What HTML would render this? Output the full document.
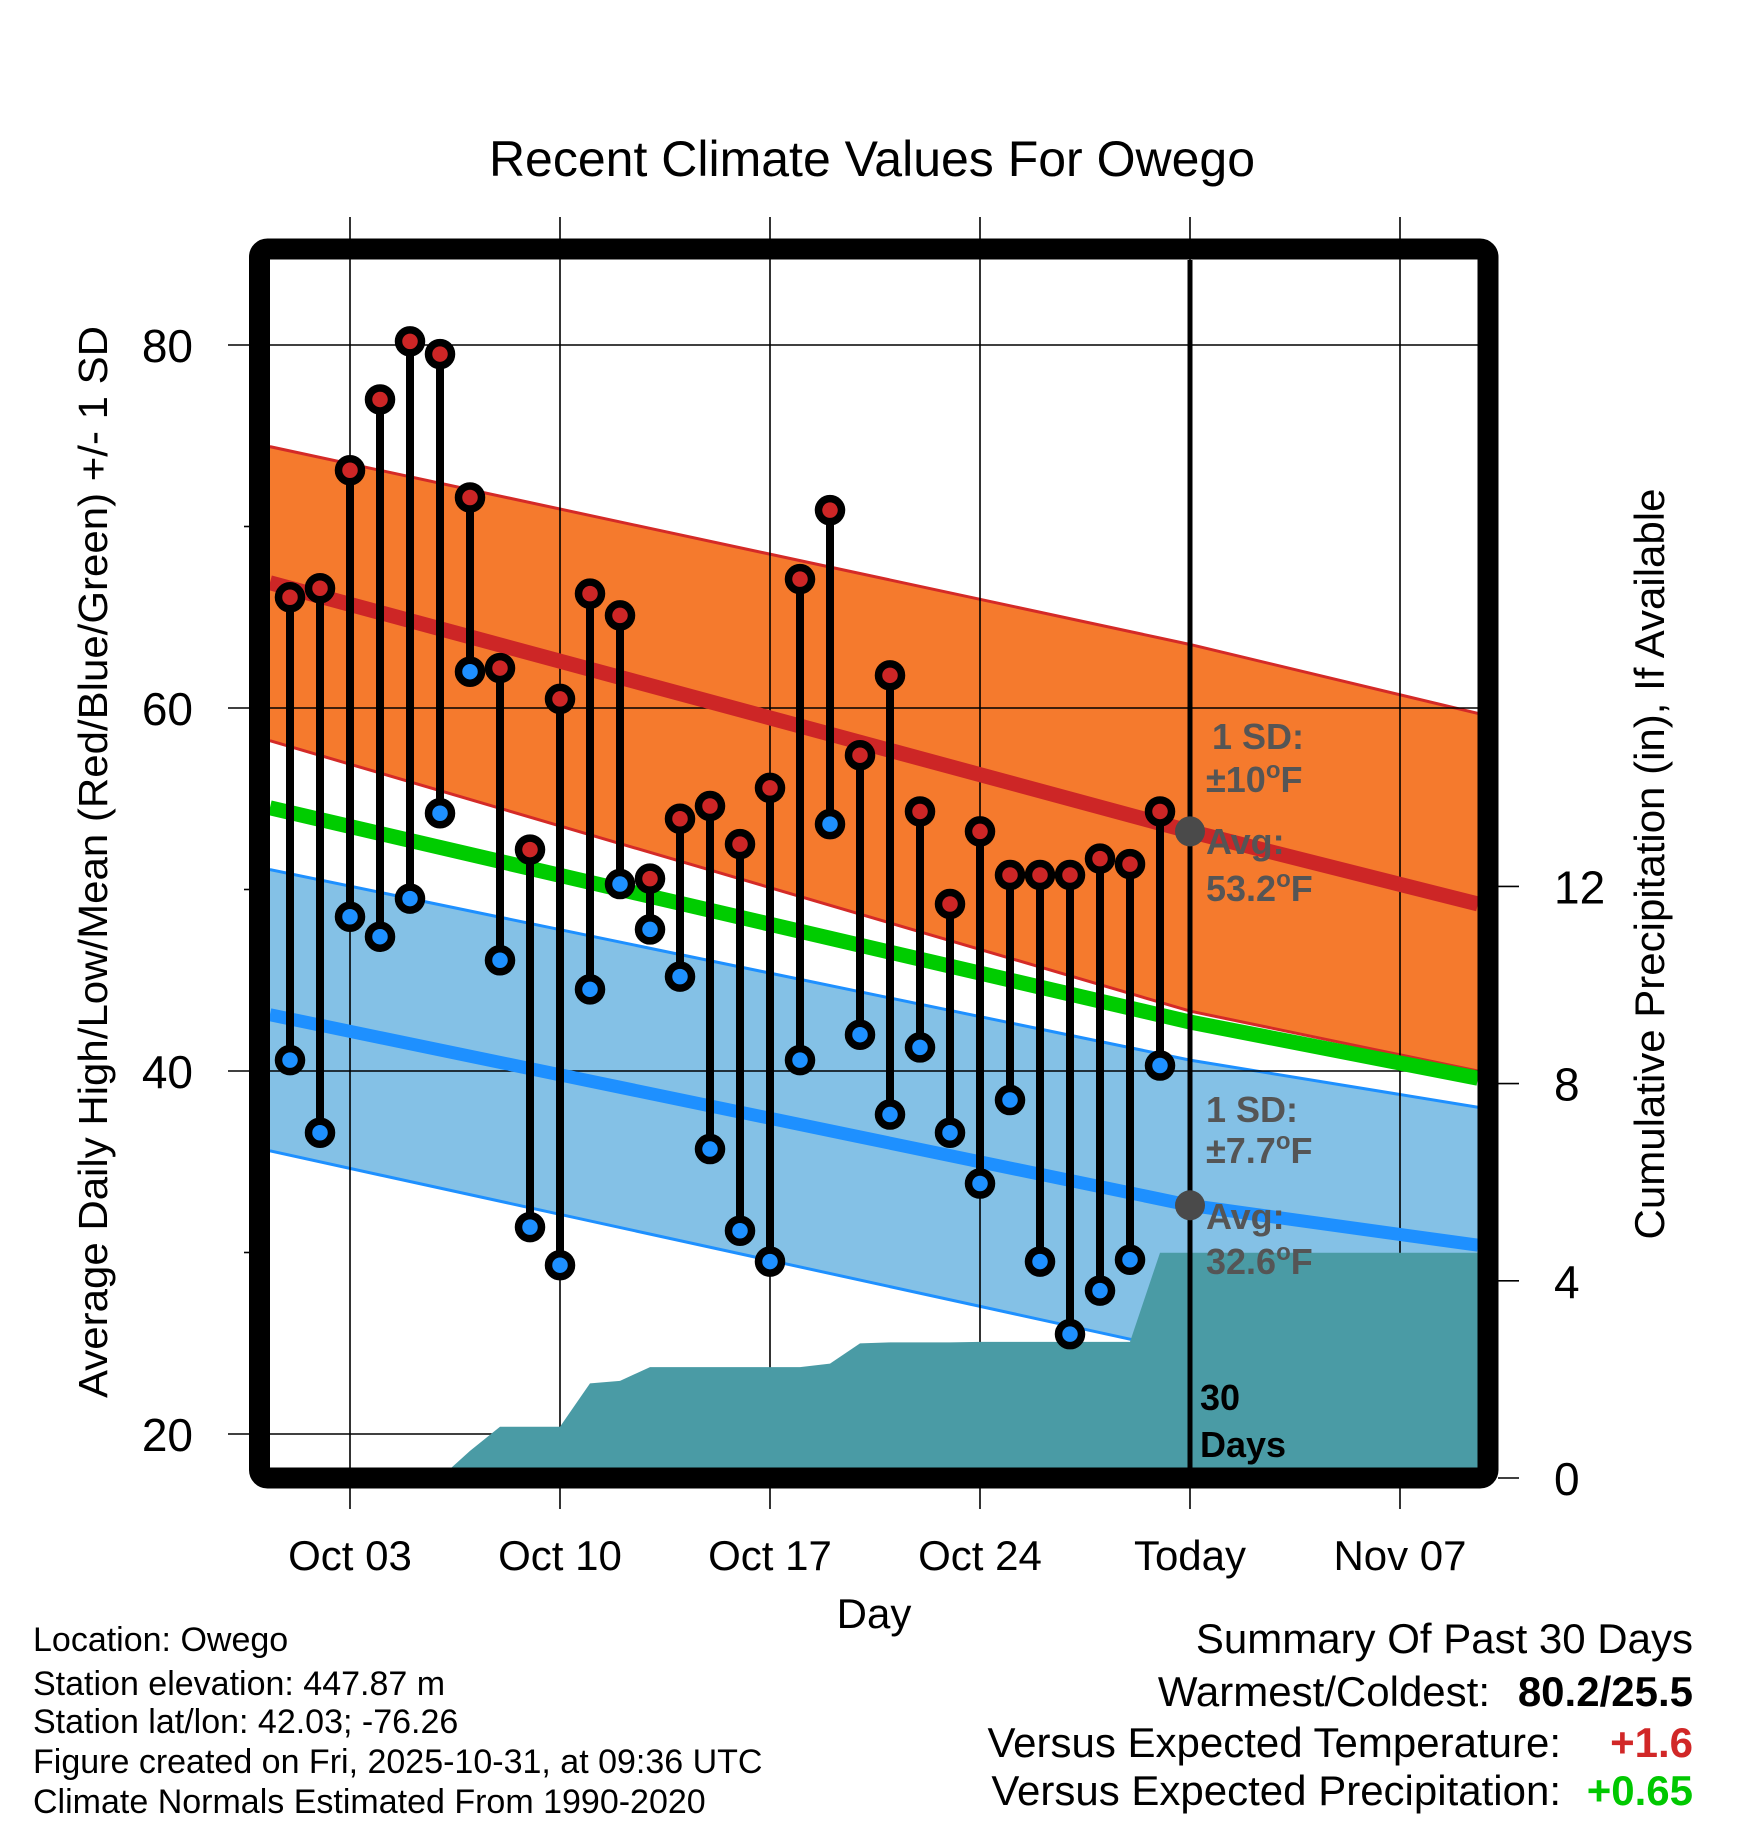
<!DOCTYPE html>
<html><head><meta charset="utf-8"><title>Recent Climate Values For Owego</title>
<style>
html,body{margin:0;padding:0;background:#fff;}
svg{display:block;font-family:"Liberation Sans",Arial,sans-serif;}
</style></head>
<body>
<svg id="chart" width="1748" height="1828" viewBox="0 0 1748 1828" xmlns="http://www.w3.org/2000/svg">
<text x="872" y="176" font-size="50" text-anchor="middle">Recent Climate Values For Owego</text>
<defs><clipPath id="plotClip"><rect x="270" y="260" width="1208" height="1208"/></clipPath></defs>
<g id="bands" clip-path="url(#plotClip)"></g>
<g id="grid"></g>
<g id="lines" clip-path="url(#plotClip)"></g>
<g id="precip" clip-path="url(#plotClip)"></g>
<g id="bars"></g>
<g id="overlay"></g>
<rect x="259.5" y="249" width="1228.5" height="1229" rx="8" fill="none" stroke="#000" stroke-width="21"/>
<g id="axes"></g>
<text transform="translate(107,862) rotate(-90)" font-size="41" text-anchor="middle" textLength="1072" lengthAdjust="spacingAndGlyphs">Average Daily High/Low/Mean (Red/Blue/Green) +/- 1 SD</text>
<text transform="translate(1664,864) rotate(-90)" font-size="42" text-anchor="middle">Cumulative Precipitation (in), If Available</text>
<text x="874" y="1628" font-size="42" text-anchor="middle">Day</text>
<g font-size="34">
<text x="33" y="1651">Location: Owego</text>
<text x="33" y="1695">Station elevation: 447.87 m</text>
<text x="33" y="1733">Station lat/lon: 42.03; -76.26</text>
<text x="33" y="1773">Figure created on Fri, 2025-10-31, at 09:36 UTC</text>
<text x="33" y="1813">Climate Normals Estimated From 1990-2020</text>
</g>
<g font-size="42">
<text x="1693" y="1653" text-anchor="end">Summary Of Past 30 Days</text>
<text x="1490" y="1706" text-anchor="end">Warmest/Coldest:</text>
<text x="1693" y="1706" text-anchor="end" font-weight="bold">80.2/25.5</text>
<text x="1561" y="1757" text-anchor="end">Versus Expected Temperature:</text>
<text x="1693" y="1757" text-anchor="end" font-weight="bold" fill="#d12727">+1.6</text>
<text x="1561" y="1805" text-anchor="end">Versus Expected Precipitation:</text>
<text x="1693" y="1805" text-anchor="end" font-weight="bold" fill="#00c800">+0.65</text>
</g>
</svg>
<script>
// ---- data ----
const categories = ["Oct 01","Oct 02","Oct 03","Oct 04","Oct 05","Oct 06","Oct 07","Oct 08","Oct 09","Oct 10","Oct 11","Oct 12","Oct 13","Oct 14","Oct 15","Oct 16","Oct 17","Oct 18","Oct 19","Oct 20","Oct 21","Oct 22","Oct 23","Oct 24","Oct 25","Oct 26","Oct 27","Oct 28","Oct 29","Oct 30"];
const highs = [66.1,66.6,73.1,77.0,80.2,79.5,71.6,62.2,52.2,60.5,66.3,65.1,50.6,53.9,54.6,52.5,55.6,67.1,70.9,57.4,61.8,54.3,49.2,53.2,50.8,50.8,50.8,51.7,51.4,54.3];
const lows = [40.6,36.6,48.5,47.4,49.5,54.2,62.0,46.1,31.4,29.3,44.5,50.3,47.8,45.2,35.7,31.2,29.5,40.6,53.6,42.0,37.6,41.3,36.6,33.8,38.4,29.5,25.5,27.9,29.6,40.3];
const precipCum = [0,0,0,0,0,0,0.55,1.04,1.04,1.04,1.92,1.97,2.25,2.25,2.25,2.25,2.25,2.25,2.32,2.73,2.75,2.75,2.75,2.76,2.76,2.76,2.76,2.76,2.76,4.57];
const normalDays = [-0.67,30,39.6];
const highAvg = [66.9,53.2,49.2];
const highUpper = [74.4,63.5,59.7];
const highLower = [58.2,43.3,40.0];
const meanAvg = [54.5,42.7,39.6];
const lowAvg = [43.1,32.6,30.4];
const lowUpper = [51.1,40.6,38.0];
const lowLower = [35.6,24.5,21.0];
const tempTicks = [80,60,40,20];
const tempMinor = [70,50,30];
const precipTicks = [0,4,8,12];
const xTickDays = [2,9,16,23,30,37];
const xTickLabels = ["Oct 03","Oct 10","Oct 17","Oct 24","Today","Nov 07"];
const todayDay = 30;
const plotEndDay = 39.7;

// ---- scales ----
const NS = "http://www.w3.org/2000/svg";
function xS(d){ return 290 + d*30; }
function yT(t){ return 345 + (80 - t)*18.15; }
function yP(p){ return 1478 - p*49.3; }
function mk(tag, attrs, parent){
  const e = document.createElementNS(NS, tag);
  for (const k in attrs) e.setAttribute(k, attrs[k]);
  parent.appendChild(e); return e;
}
const bands = document.getElementById('bands');
const grid = document.getElementById('grid');
const lines = document.getElementById('lines');
const precip = document.getElementById('precip');
const bars = document.getElementById('bars');
const overlay = document.getElementById('overlay');
const axes = document.getElementById('axes');

function pts(arr){ return normalDays.map((d,i)=>xS(d)+','+yT(arr[i])); }
function band(up, lo, fill, edge, name){
  const p = pts(up).concat(pts(lo).reverse()).join(' ');
  const poly = mk('polygon',{points:p,fill:fill},bands);
  
  
  const e1 = mk('polyline',{points:pts(up).join(' '),fill:'none',stroke:edge,'stroke-width':3},bands);
  
  
  const e2 = mk('polyline',{points:pts(lo).join(' '),fill:'none',stroke:edge,'stroke-width':3},bands);
  
  
}
band(highUpper, highLower, '#f57a2d', '#d42a27', 'high-sd-band');
band(lowUpper, lowLower, '#84c1e6', '#1e90ff', 'low-sd-band');

// grid
tempTicks.forEach(t=>{
  const l = mk('line',{x1:228,x2:1478,y1:yT(t),y2:yT(t),stroke:'#000','stroke-width':1.6},grid);
  
  
});
xTickDays.forEach(d=>{
  const l = mk('line',{x1:xS(d),x2:xS(d),y1:217,y2:1509,stroke:'#000','stroke-width':1.6},grid);
  
  
});

// normal lines
function nline(arr, color, w, name){
  const l = mk('polyline',{points:pts(arr).join(' '),fill:'none',stroke:color,'stroke-width':w},lines);
  
  
}
nline(highAvg,'#cd2626',15,'high-average-line');
nline(meanAvg,'#00cc00',15,'mean-average-line');
nline(lowAvg,'#1e90ff',13,'low-average-line');

// precip
let pp = [xS(0)+','+yP(0)];
precipCum.forEach((v,i)=>pp.push(xS(i)+','+yP(v)));
pp.push(xS(plotEndDay)+','+yP(precipCum[precipCum.length-1]));
pp.push(xS(plotEndDay)+','+yP(0));
const pa = mk('polygon',{points:pp.join(' '),fill:'#4a9ba5'},precip);



// bars
highs.forEach((h,i)=>{
  const x = xS(i), l = lows[i];
  const s = mk('line',{x1:x,x2:x,y1:yT(h),y2:yT(l),stroke:'#000','stroke-width':8},bars);
  
  
  const c1 = mk('circle',{cx:x,cy:yT(h),r:11.5,fill:'#cd2626',stroke:'#000','stroke-width':7.5},bars);
  
  
  const c2 = mk('circle',{cx:x,cy:yT(l),r:11.5,fill:'#1e90ff',stroke:'#000','stroke-width':7.5},bars);
  
  
});

// today overlay
const tl = mk('line',{x1:xS(todayDay),x2:xS(todayDay),y1:260,y2:1468,stroke:'#000','stroke-width':5},overlay);


const d1 = mk('circle',{cx:xS(todayDay),cy:yT(highAvg[1]),r:15,fill:'#4a4a4a'},overlay);


const d2 = mk('circle',{cx:xS(todayDay),cy:yT(lowAvg[1]),r:15,fill:'#4a4a4a'},overlay);


const ann = [
  ['1 SD:','',1212,749,'#555'],['\u00B110','F',1206,792,'#555'],['Avg:','',1206,854,'#555'],['53.2','F',1206,901,'#555'],
  ['1 SD:','',1206,1122,'#555'],['\u00B17.7','F',1206,1163,'#555'],['Avg:','',1206,1229,'#555'],['32.6','F',1206,1274,'#555'],
  ['30','',1200,1410,'#000'],['Days','',1200,1457,'#000']
];
ann.forEach(a=>{
  const t = mk('text',{x:a[2],y:a[3],'font-size':36,'font-weight':'bold',fill:a[4]},overlay);
  
  
  t.appendChild(document.createTextNode(a[0]));
  if (a[1]) {
    const sup = mk('tspan',{dy:-14,'font-size':24},t);
    sup.textContent = 'o';
    const f = mk('tspan',{dy:14},t);
    f.textContent = a[1];
  }
});

// axes
tempTicks.forEach(t=>{
  const lb = mk('text',{x:193,y:yT(t)+17,'font-size':46,'text-anchor':'end'},axes);
  lb.textContent = t;
  
  
});
tempMinor.forEach(t=>{
  const l = mk('line',{x1:244,x2:260,y1:yT(t),y2:yT(t),stroke:'#000','stroke-width':1.6},axes);
  
  
});
precipTicks.forEach(p=>{
  const l = mk('line',{x1:1498,x2:1519,y1:yP(p),y2:yP(p),stroke:'#000','stroke-width':1.6},axes);
  
  
  const lb = mk('text',{x:1554,y:yP(p)+17,'font-size':46},axes);
  lb.textContent = p;
  
  
});
xTickDays.forEach((d,i)=>{
  const lb = mk('text',{x:xS(d),y:1570,'font-size':42,'text-anchor':'middle'},axes);
  lb.textContent = xTickLabels[i];
  
  
});
</script>
</body></html>
